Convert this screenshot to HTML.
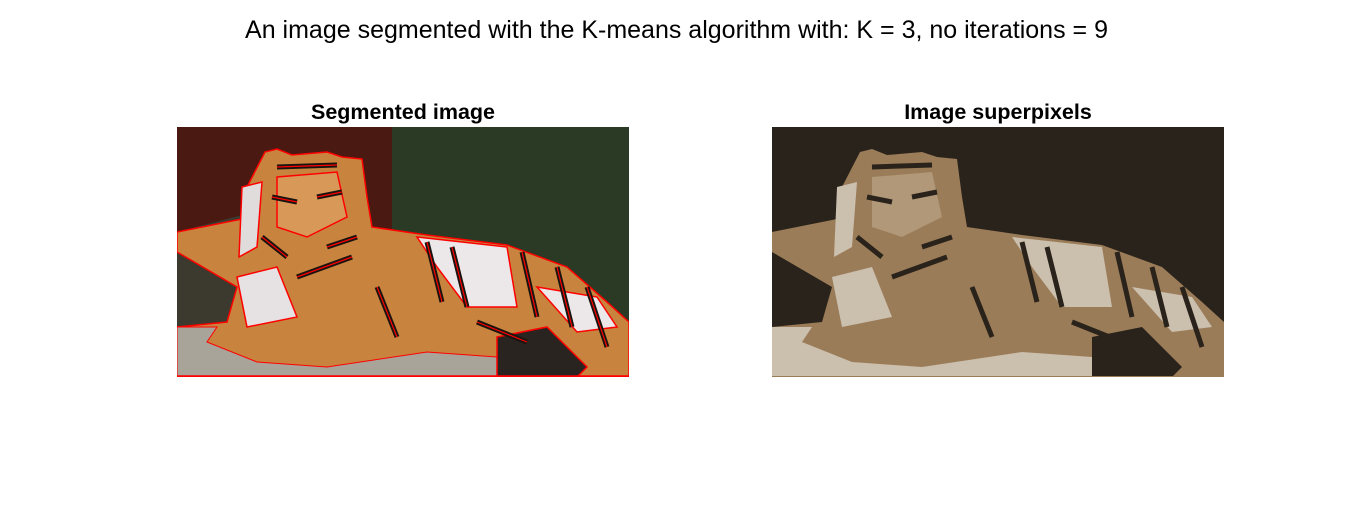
<!DOCTYPE html>
<html><head><meta charset="utf-8"><style>
html,body{margin:0;padding:0;background:#fff;width:1353px;height:510px;overflow:hidden;font-family:"Liberation Sans",Arial,sans-serif;}
.t{position:absolute;left:0;width:1353px;text-align:center;top:15px;font-size:25px;line-height:30px;color:#000;}
.st{position:absolute;font-weight:bold;font-size:21.5px;line-height:26px;text-align:center;width:452px;top:99px;}
svg{position:absolute;top:127px;}
</style></head><body>
<div class="t">An image segmented with the K-means algorithm with: K = 3, no iterations = 9</div>
<div class="st" style="left:177px">Segmented image</div>
<div class="st" style="left:772px">Image superpixels</div>

<svg style="left:177px" width="452" height="250" viewBox="0 0 452 250">
<rect width="452" height="250" fill="#4a1a12"/>
<rect x="215" width="237" height="250" fill="#2a3a24"/>
<polygon points="0,105 65,88 70,200 0,200" fill="#3c3a2e"/>
<polygon points="0,105 65,92 70,60 88,25 100,22 115,28 150,25 165,30 185,32 190,70 195,100 250,108 330,118 390,140 430,175 452,195 452,250 0,250 0,200 50,195 60,160 0,125" fill="#c8843e" stroke="#f00" stroke-width="1.5"/>
<polygon points="0,200 40,200 30,215 80,235 150,240 250,225 320,230 330,250 0,250" fill="#a9a49a" stroke="#f00" stroke-width="1"/>
<polygon points="240,110 330,120 340,180 290,180 260,140" fill="#ece8ea" stroke="#f00" stroke-width="1.5"/>
<polygon points="100,50 160,45 170,90 130,110 100,100" fill="#d89858" stroke="#f00" stroke-width="1.5"/>
<polygon points="60,150 100,140 120,190 70,200" fill="#e6e2e4" stroke="#f00" stroke-width="1.5"/>
<polygon points="65,60 85,55 80,120 62,130" fill="#e0dcdc" stroke="#f00" stroke-width="1.5"/>
<polygon points="360,160 420,170 440,200 400,205" fill="#ece8ea" stroke="#f00" stroke-width="1.5"/>
<polygon points="320,210 370,200 410,240 400,250 320,250" fill="#2a2420" stroke="#f00" stroke-width="1.5"/>
<g stroke="#1a1410" stroke-width="5" fill="none">
<path d="M100,40 L160,38 M95,70 L120,75 M140,70 L165,65 M85,110 L110,130 M150,120 L180,110 M250,115 L265,175 M275,120 L290,180 M345,125 L360,190 M380,140 L395,200 M410,160 L430,220 M120,150 L175,130 M200,160 L220,210 M300,195 L350,215"/>
</g>
<g stroke="#f00" stroke-width="1.2" fill="none">
<path d="M100,40 L160,38 M95,70 L120,75 M140,70 L165,65 M85,110 L110,130 M150,120 L180,110 M250,115 L265,175 M275,120 L290,180 M345,125 L360,190 M380,140 L395,200 M410,160 L430,220 M120,150 L175,130 M200,160 L220,210 M300,195 L350,215"/>
</g>
<line x1="0" y1="249" x2="452" y2="249" stroke="#f00" stroke-width="1.5"/>
</svg>

<svg style="left:772px" width="452" height="250" viewBox="0 0 452 250">
<rect width="452" height="250" fill="#2a231b"/>
<polygon points="0,105 65,92 70,60 88,25 100,22 115,28 150,25 165,30 185,32 190,70 195,100 250,108 330,118 390,140 430,175 452,195 452,250 0,250 0,200 50,195 60,160 0,125" fill="#9b7c58"/>
<polygon points="0,200 40,200 30,215 80,235 150,240 250,225 320,230 330,250 0,250" fill="#cbbfae"/>
<polygon points="240,110 330,120 340,180 290,180 260,140" fill="#cbbfae"/>
<polygon points="100,50 160,45 170,90 130,110 100,100" fill="#b09878"/>
<polygon points="60,150 100,140 120,190 70,200" fill="#cbbfae"/>
<polygon points="65,60 85,55 80,120 62,130" fill="#cbbfae"/>
<polygon points="360,160 420,170 440,200 400,205" fill="#cbbfae"/>
<polygon points="320,210 370,200 410,240 400,250 320,250" fill="#2a231b"/>
<g stroke="#2a231b" stroke-width="5" fill="none">
<path d="M100,40 L160,38 M95,70 L120,75 M140,70 L165,65 M85,110 L110,130 M150,120 L180,110 M250,115 L265,175 M275,120 L290,180 M345,125 L360,190 M380,140 L395,200 M410,160 L430,220 M120,150 L175,130 M200,160 L220,210 M300,195 L350,215"/>
</g>
<line x1="0" y1="249.5" x2="452" y2="249.5" stroke="#9b7c58" stroke-width="1"/>
</svg>
</body></html>
